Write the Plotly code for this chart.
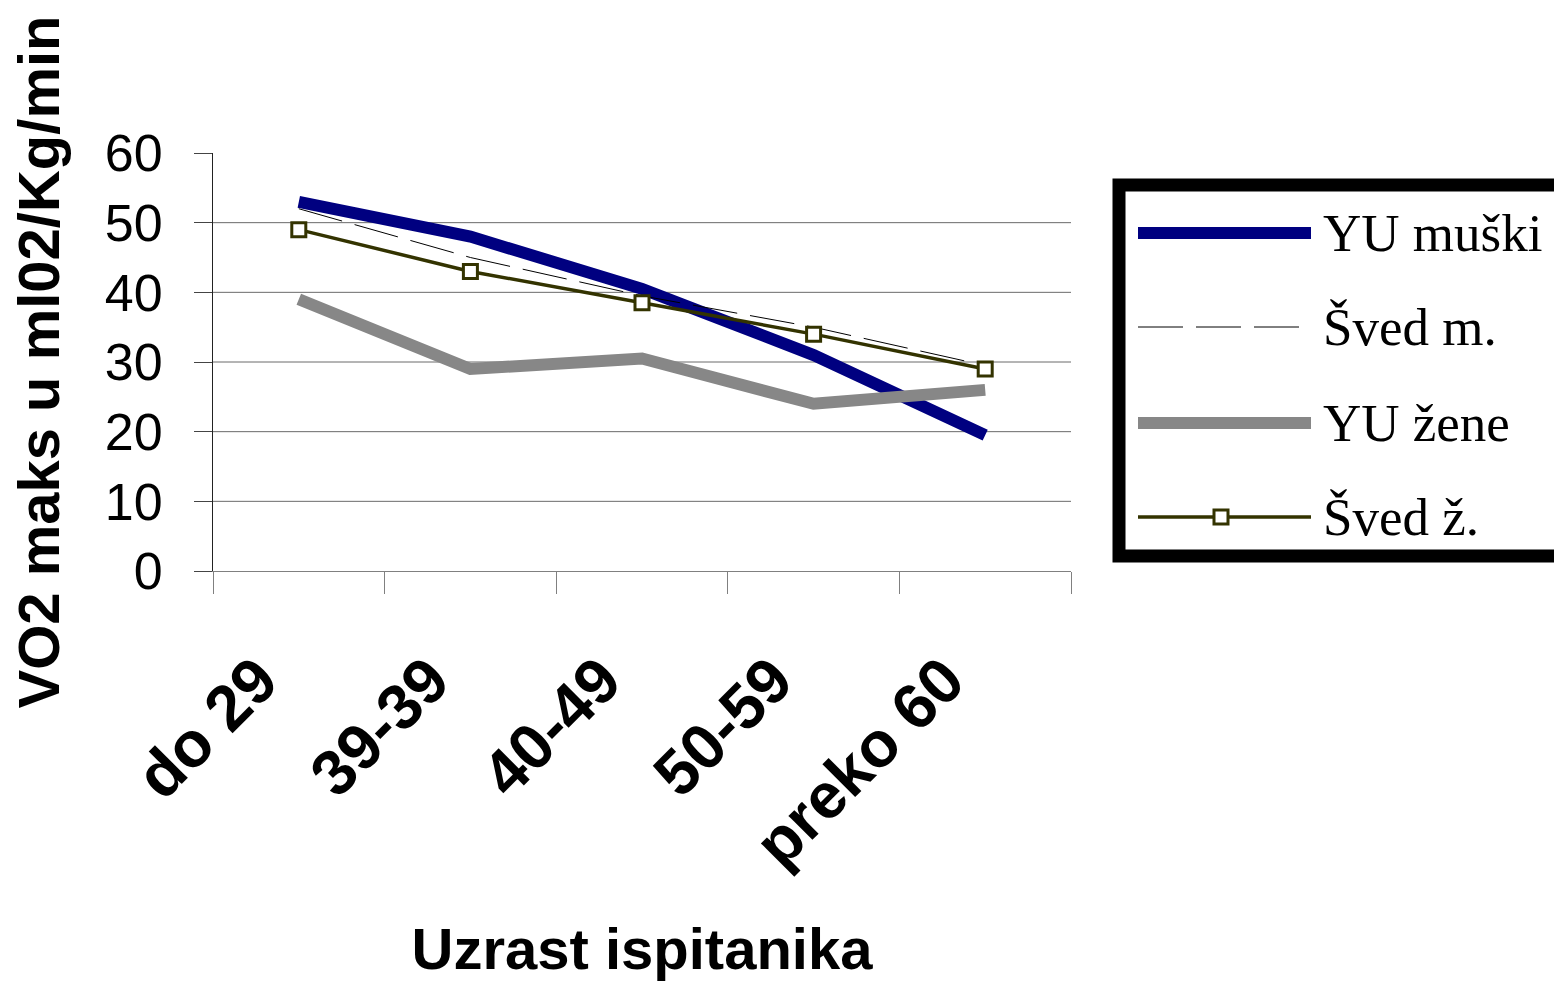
import plotly.graph_objects as go

# ---- data ----
categories = ["do 29", "39-39", "40-49", "50-59", "preko 60"]
yu_muski = [53, 48, 40.5, 31, 19.5]
sved_m = [52, 45, 39.5, 35, 29.5]
yu_zene = [39, 29, 30.5, 24, 26]
sved_z = [49, 43, 38.5, 34, 29]
series_names = ["YU muški", "Šved m.", "YU žene", "Šved ž."]
y_ticks = [0, 10, 20, 30, 40, 50, 60]
y_title = "VO2 maks u ml02/Kg/min"
x_title = "Uzrast ispitanika"

# ---- layout geometry (pixels) ----
W, H = 1554, 982
L, R, T, B = 213, 1071, 153, 571
PW, PH = R - L, B - T


def px(xp):
    return (xp - L) / PW


def py(yp):
    return (B - yp) / PH


SANS = "Liberation Sans, Arial, sans-serif"
SERIF = "Liberation Serif, Times New Roman, serif"

line_styles = [
    dict(color="#000080", width=12),
    dict(color="#000000", width=1, dash="45px,13px"),
    dict(color="#878787", width=12),
    dict(color="#333300", width=3.5),
]
values = [yu_muski, sved_m, yu_zene, sved_z]

fig = go.Figure()

# gridlines (drawn below the data)
for v in y_ticks[1:-1]:
    fig.add_shape(type="line", xref="paper", yref="y", x0=0, x1=1, y0=v, y1=v,
                  line=dict(color="#6a6a6a", width=1), layer="below")

for name, vals, st in zip(series_names, values, line_styles):
    if name == series_names[3]:
        fig.add_trace(go.Scatter(
            x=categories, y=vals, name=name, mode="lines+markers",
            line=st,
            marker=dict(symbol="square", size=14, color="white",
                        line=dict(color="#333300", width=3)),
        ))
    else:
        fig.add_trace(go.Scatter(x=categories, y=vals, name=name, mode="lines", line=st))

# ---- custom legend ----
fig.add_shape(type="rect", xref="paper", yref="paper",
              x0=px(1119), x1=px(1575), y0=py(556), y1=py(185),
              line=dict(color="black", width=13), fillcolor="white", layer="above")
leg_y = [233, 327, 423, 517]
for name, st, yy in zip(series_names, line_styles, leg_y):
    fig.add_shape(type="line", xref="paper", yref="paper",
                  x0=px(1138), x1=px(1311), y0=py(yy), y1=py(yy),
                  line=st, layer="above")
    fig.add_annotation(x=px(1321), y=py(yy), xref="paper", yref="paper",
                       text=name, showarrow=False, xanchor="left", yanchor="middle",
                       font=dict(family=SERIF, size=53, color="black"))
fig.add_shape(type="rect", xref="paper", yref="paper",
              x0=px(1214), x1=px(1228), y0=py(524), y1=py(510),
              line=dict(color="#333300", width=3), fillcolor="white", layer="above")

fig.update_layout(
    width=W, height=H,
    margin=dict(l=L, r=W - R, t=T, b=H - B, autoexpand=False),
    plot_bgcolor="white", paper_bgcolor="white",
    showlegend=False,
    font=dict(family=SANS, color="black"),
)

fig.update_xaxes(
    type="category", range=[-0.5, 4.5], tickson="boundaries",
    ticks="outside", ticklen=22, tickcolor="#808080", tickwidth=1,
    showline=True, linecolor="#808080", linewidth=1,
    showgrid=False, zeroline=False, tickangle=-45,
    ticklabelstandoff=45, ticklabelshift=-40,
    tickfont=dict(family=SANS, size=64, color="black", weight="bold"),
    title=dict(text=x_title, standoff=48,
               font=dict(family=SANS, size=58, color="black", weight="bold")),
    automargin=False,
)
fig.update_yaxes(
    range=[0, 60], tickvals=y_ticks, ticks="outside", ticklen=18,
    tickcolor="#444444", tickwidth=1,
    showline=True, linecolor="#222222", linewidth=1,
    showgrid=False, zeroline=False,
    ticklabelstandoff=21,
    tickfont=dict(family=SANS, size=52, color="black"),
    title=dict(text=y_title, standoff=26,
               font=dict(family=SANS, size=58, color="black", weight="bold")),
    automargin=False,
)

fig.write_html("out.html", config={"displayModeBar": False},
               post_script="document.body.style.margin='0';")
